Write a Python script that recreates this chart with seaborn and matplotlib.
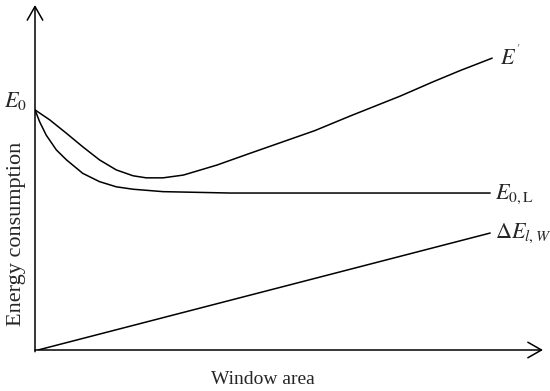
import matplotlib
matplotlib.use("Agg")
import matplotlib.pyplot as plt
import numpy as np
import pandas as pd
import seaborn as sns

# values (window area 0-100, energy 0-100)
e_prime_x = [0, 2.9, 6.2, 9.4, 12.7, 16.0, 19.3, 21.9, 25.2, 29.2, 35.8,
             42.3, 48.9, 55.1, 62.0, 71.9, 78.3, 83.7, 90.0]
e_prime_y = [69.6, 66.7, 62.8, 58.9, 55.1, 52.2, 50.5, 49.9, 49.9, 50.7, 53.6,
             57.0, 60.4, 63.6, 67.8, 73.6, 77.7, 81.0, 84.6]

e0l_x = [0, 0.9, 2.2, 4.2, 6.2, 9.4, 12.7, 16.0, 19.3, 25.2, 38.4, 89.6]
e0l_y = [69.6, 66.2, 62.3, 58.0, 55.1, 51.2, 48.8, 47.3, 46.6, 45.9, 45.5, 45.5]

de_x = [0.6, 89.6]
de_y = [0.0, 33.9]

frames = []
for name, xs, ys in [("E'", e_prime_x, e_prime_y),
                     ("E0L", e0l_x, e0l_y),
                     ("dE", de_x, de_y)]:
    frames.append(pd.DataFrame({"area": xs, "energy": ys, "series": name}))
df = pd.concat(frames, ignore_index=True)

sns.set_theme(style="white")
plt.rcParams["font.family"] = ["Liberation Serif", "DejaVu Serif"]
plt.rcParams["mathtext.fontset"] = "stix"

fig = plt.figure(figsize=(5.5, 3.91), dpi=100)
ax = fig.add_axes([35 / 550, 41 / 391, 508 / 550, 345 / 391])

sns.lineplot(data=df, x="area", y="energy", hue="series", units="series",
             estimator=None, sort=False, palette=["black"] * 3, legend=False,
             linewidth=1.1, ax=ax)

ax.set_xlim(0, 100)
ax.set_ylim(0, 100)
for s in ax.spines.values():
    s.set_visible(False)
ax.set_xticks([])
ax.set_yticks([])
ax.set_xlabel("")
ax.set_ylabel("")

arrow = dict(arrowstyle="->,head_length=0.7,head_width=0.4", color="black",
             lw=1.1, mutation_scale=14, shrinkA=0, shrinkB=0)
ax.annotate("", xy=(0, 100), xytext=(0, -0.5), arrowprops=arrow,
            annotation_clip=False)
ax.annotate("", xy=(100, 0), xytext=(0, 0), arrowprops=arrow,
            annotation_clip=False)

ax.text(-3.8, 72.3, r"$E_0$", fontsize=16, ha="center", va="center")
ax.text(91.6, 84.8, r"$E^{'}$", fontsize=16, ha="left", va="center")
ax.text(90.6, 45.2, r"$E_{0,\mathrm{L}}$", fontsize=16, ha="left", va="center")
ax.text(90.6, 33.8, r"$\Delta E_{l,W}$", fontsize=16, ha="left", va="center")

fig.text(17 / 550, 1 - 234 / 391, "Energy consumption", fontsize=16,
         rotation=90, ha="center", va="center")
fig.text(263 / 550, 1 - 380 / 391, "Window area", fontsize=14,
         ha="center", va="center")

fig.savefig("out.png", dpi=100)
